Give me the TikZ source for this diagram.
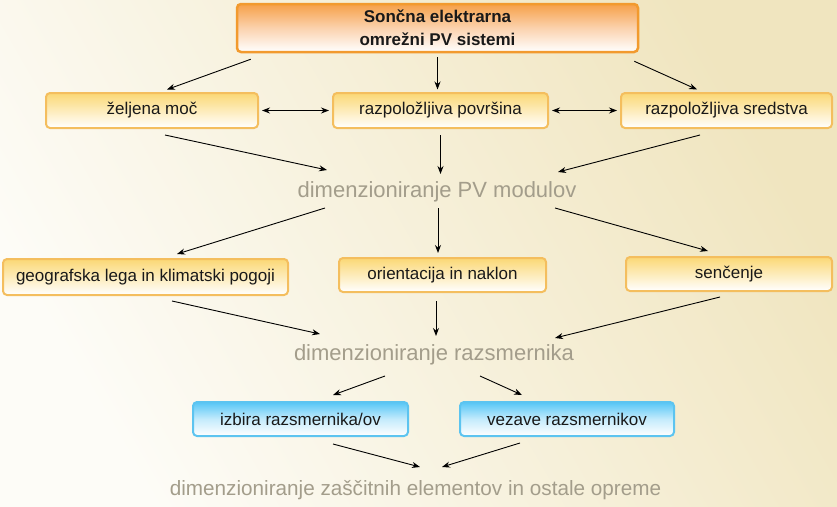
\documentclass[tikz,border=0pt]{standalone}
\usepackage{fontspec}
\setmainfont{Liberation Sans}
\usetikzlibrary{arrows.meta}
\definecolor{bgl}{HTML}{FDFCF7}
\definecolor{bgr}{HTML}{F0E5BF}
\definecolor{boxline}{HTML}{F4BE5E}
\definecolor{boxtop}{HTML}{FBD875}
\definecolor{boxmid}{HTML}{FEF0C8}
\definecolor{topline}{HTML}{F29A2E}
\definecolor{toptop}{HTML}{F6A048}
\definecolor{topmid}{HTML}{FBD2AE}
\definecolor{blueline}{HTML}{5CC4F0}
\definecolor{bluetop}{HTML}{55C6F6}
\definecolor{bluemid}{HTML}{C4EBFC}
\definecolor{labelgray}{HTML}{A39D8B}
\begin{document}
\begin{tikzpicture}[x=1pt,y=-1pt,
		box/.style={draw=boxline, line width=2pt, rounded corners=4pt, top color=boxtop, middle color=boxmid, bottom color=white, minimum height=35pt, font=\fontsize{17}{20}\selectfont, text=black!90},
		topbox/.style={box, draw=topline, line width=2.5pt, top color=toptop, middle color=topmid, minimum width=401pt, minimum height=48pt, align=center, font=\fontsize{17}{23}\selectfont\bfseries},
		bluebox/.style={box, draw=blueline, top color=bluetop, middle color=bluemid, minimum height=34pt},
		lbl/.style={text=labelgray, font=\fontsize{22}{26}\selectfont, text height=16pt, text depth=5pt},
		arr/.style={-{Stealth[length=8pt,width=6pt]}, line width=0.9pt},
		dbl/.style={{Stealth[length=8pt,width=6pt]}-{Stealth[length=8pt,width=6pt]}, line width=0.9pt, shorten <=3pt, shorten >=3pt}
	]
		% background
		\shade[left color=bgl, right color=bgr, shading angle=120] (0,0) rectangle (837,506);
		\useasboundingbox (0,0) rectangle (837,506);

		% nodes
		\node[topbox] (top) at (437.5,28) {Sončna elektrarna\\omrežni PV sistemi};
		\node[box, minimum width=212pt] (zel) at (152,110.5) {željena moč};
		\node[box, minimum width=215pt] (pov) at (440.5,110.5) {razpoložljiva površina};
		\node[box, minimum width=211pt] (sred) at (726.5,110.5) {razpoložljiva sredstva};
		\node[lbl] (dimpv) at (437,192) {dimenzioniranje PV modulov};
		\node[box, minimum width=285pt, minimum height=36pt] (geo) at (145.5,277) {geografska lega in klimatski pogoji};
		\node[box, minimum width=207pt, minimum height=34pt] (ori) at (442.5,275) {orientacija in naklon};
		\node[box, minimum width=206pt, minimum height=34pt] (senc) at (729,274) {senčenje};
		\node[lbl] (dimraz) at (434,355) {dimenzioniranje razsmernika};
		\node[bluebox, minimum width=215pt] (izb) at (300.5,419) {izbira razsmernika/ov};
		\node[bluebox, minimum width=214pt] (vez) at (567,419) {vezave razsmernikov};
		\node[lbl, font=\fontsize{20.7}{24}\selectfont] (dimzas) at (415.5,490) {dimenzioniranje zaščitnih elementov in ostale opreme};

		% connectors
		\draw[arr] ([shift={(15,6)}]top.south west) -- ([shift={(15,-2.5)}]zel.north);
		\draw[arr] ([shift={(0,4)}]top.south) -- ([shift={(-3,-2.5)}]pov.north);
		\draw[arr] ([shift={(-5,8)}]top.south east) -- ([shift={(-29.5,-2.5)}]sred.north);
		\draw[dbl] (zel) -- (pov);
		\draw[dbl] (pov) -- (sred);

		\draw[arr] ([shift={(13,6)}]zel.south) -- ([shift={(-110,-22)}]dimpv.center);
		\draw[arr] ([shift={(0,6)}]pov.south) -- ([shift={(3.5,-18)}]dimpv.center);
		\draw[arr] ([shift={(-26.5,6)}]sred.south) -- ([shift={(121,-20)}]dimpv.center);

		\draw[arr] ([shift={(-112,16)}]dimpv.center) -- ([shift={(31.5,-4)}]geo.north);
		\draw[arr] ([shift={(1,16)}]dimpv.center) -- ([shift={(-4.5,-4)}]ori.north);
		\draw[arr] ([shift={(118,16)}]dimpv.center) -- ([shift={(-21,-5)}]senc.north);

		\draw[arr] ([shift={(26.5,5)}]geo.south) -- ([shift={(-114,-21)}]dimraz.center);
		\draw[arr] ([shift={(-6.5,8)}]ori.south) -- ([shift={(2,-19)}]dimraz.center);
		\draw[arr] ([shift={(-9,5)}]senc.south) -- ([shift={(121,-17)}]dimraz.center);

		\draw[arr] ([shift={(-49,21)}]dimraz.center) -- ([shift={(32.5,-6)}]izb.north);
		\draw[arr] ([shift={(46,21)}]dimraz.center) -- ([shift={(-45,-6)}]vez.north);

		\draw[arr] ([shift={(32.5,7)}]izb.south) -- ([shift={(4.5,-23)}]dimzas.center);
		\draw[arr] ([shift={(-47,6)}]vez.south) -- ([shift={(26.5,-23)}]dimzas.center);
\end{tikzpicture}
\end{document}
